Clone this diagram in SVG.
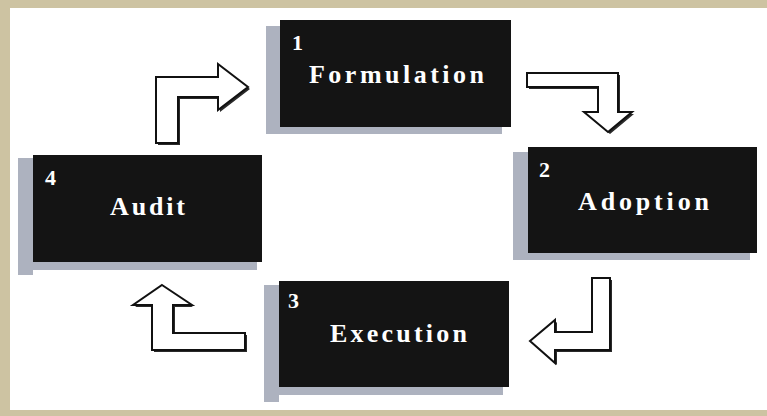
<svg xmlns="http://www.w3.org/2000/svg" width="767" height="416" viewBox="0 0 767 416">
  <style>
    .shadow { fill: #adb2bf; }
    .box { fill: #141414; }
    .num { font-family: "Liberation Serif", "Times New Roman", serif; font-weight: bold; font-size: 22px; fill: #ffffff; }
    .label { font-family: "Liberation Serif", "Times New Roman", serif; font-weight: bold; font-size: 26px; fill: #ffffff; }
    .arrow-shadow { fill: #2a2a2a; }
    .arrow { fill: #ffffff; stroke: #111111; stroke-width: 2; stroke-linejoin: miter; }
  </style>
  <!-- frame -->
  <rect x="0" y="0" width="767" height="416" fill="#cdc3a2"/>
  <rect x="10" y="8" width="757" height="402" fill="#ffffff"/>

  <g id="node-1">
    <rect class="shadow" x="266" y="26" width="14" height="108"/>
    <rect class="shadow" x="266" y="127" width="236" height="7"/>
    <rect class="box" x="280" y="20" width="231" height="107"/>
    <text class="num" x="292" y="50">1</text>
    <text class="label" x="309" y="83" textLength="175" lengthAdjust="spacing">Formulation</text>
  </g>

  <g id="node-2">
    <rect class="shadow" x="513" y="152" width="15" height="108"/>
    <rect class="shadow" x="513" y="253" width="237" height="7"/>
    <rect class="box" x="528" y="147" width="229" height="106"/>
    <text class="num" x="539" y="177">2</text>
    <text class="label" x="578" y="210" textLength="131" lengthAdjust="spacing">Adoption</text>
  </g>

  <g id="node-3">
    <rect class="shadow" x="264" y="285" width="15" height="117"/>
    <rect class="shadow" x="264" y="387" width="239" height="8"/>
    <rect class="box" x="279" y="281" width="230" height="106"/>
    <text class="num" x="288" y="308">3</text>
    <text class="label" x="330" y="342" textLength="137" lengthAdjust="spacing">Execution</text>
  </g>

  <g id="node-4">
    <rect class="shadow" x="18" y="158" width="15" height="117"/>
    <rect class="shadow" x="18" y="262" width="239" height="8"/>
    <rect class="box" x="33" y="155" width="229" height="107"/>
    <text class="num" x="45" y="185">4</text>
    <text class="label" x="110" y="215" textLength="75" lengthAdjust="spacing">Audit</text>
  </g>

  <g id="connectors">
    <!-- 4 -> 1 -->
    <path class="arrow-shadow" d="M158,145 L158,79 L220,79 L220,66 L250,89 L220,112 L220,99 L180,99 L180,145 Z"/>
    <path class="arrow" d="M156,143 L156,77 L218,77 L218,64 L248,87 L218,110 L218,97 L178,97 L178,143 Z"/>
    <!-- 1 -> 2 -->
    <path class="arrow-shadow" d="M529,75 L620,75 L620,114 L634,114 L610,134 L586,114 L600,114 L600,89 L529,89 Z"/>
    <path class="arrow" d="M527,73 L618,73 L618,112 L632,112 L608,132 L584,112 L598,112 L598,87 L527,87 Z"/>
    <!-- 2 -> 3 -->
    <path class="arrow-shadow" d="M594,280 L612,280 L612,352 L557,352 L557,365 L532,343 L557,322 L557,334 L594,334 Z"/>
    <path class="arrow" d="M592,278 L610,278 L610,350 L555,350 L555,363 L530,341 L555,320 L555,332 L592,332 Z"/>
    <!-- 3 -> 4 -->
    <path class="arrow-shadow" d="M163,287 L193,307 L175,307 L175,335 L247,335 L247,352 L154,352 L154,307 L135,307 Z"/>
    <path class="arrow" d="M162,285 L192,305 L173,305 L173,333 L245,333 L245,350 L152,350 L152,305 L133,305 Z"/>
  </g>
</svg>
